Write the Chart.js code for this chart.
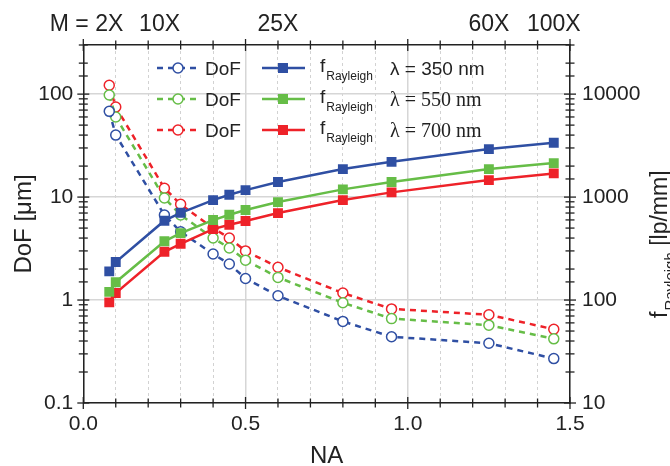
<!DOCTYPE html>
<html>
<head>
<meta charset="utf-8">
<script src="https://cdn.jsdelivr.net/npm/chart.js@4.4.1/dist/chart.umd.min.js"></script>
<style>
  body { margin: 0; background: #fff; }
  #wrap { width: 670px; height: 466px; }
</style>
</head>
<body>
<div id="wrap"><canvas id="dofChart" width="670" height="466"></canvas></div>
<script>
// numerical aperture of each objective
const na = [0.08, 0.1, 0.25, 0.3, 0.4, 0.45, 0.5, 0.6, 0.8, 0.95, 1.25, 1.45];

// depth of field [um]
const dof350 = [68, 40, 6.7, 4.6, 2.8, 2.24, 1.62, 1.1, 0.62, 0.44, 0.38, 0.27];
const dof550 = [98, 60, 9.8, 6.7, 4.0, 3.2, 2.44, 1.66, 0.94, 0.66, 0.57, 0.42];
const dof700 = [122, 75, 12.2, 8.5, 5.0, 4.0, 3.0, 2.08, 1.17, 0.82, 0.72, 0.52];

// Rayleigh frequency [lp/mm]
const f350 = [190, 234, 590, 704, 935, 1052, 1169, 1400, 1870, 2200, 2925, 3366];
const f550 = [120, 149, 372, 447, 598, 673, 748, 894, 1188, 1400, 1870, 2138];
const f700 = [95, 117, 294, 352, 489, 538, 585, 699, 935, 1111, 1462, 1698];

const lambdas = ['350 nm', '550 nm', '700 nm'];

// magnification labels on the top axis
const magLabels = ['M = 2X', '10X', '25X', '60X', '100X'];
const magNA = [0.08, 0.235, 0.6, 1.25, 1.45];

const colors = ['#2f4fa3', '#66bd47', '#ee2229'];
const FONT = "'Liberation Sans', Arial, sans-serif";
const INK = '#222';

Chart.defaults.font.family = FONT;
Chart.defaults.color = INK;

const pts = arr => arr.map((v, i) => ({ x: na[i], y: v }));
const isDecade = v => Math.abs(Math.log10(v) - Math.round(Math.log10(v))) < 1e-9;
const isHalf = v => Math.abs(v * 2 - Math.round(v * 2)) < 1e-6;

function fSet(data, c) {
  return {
    data: pts(data), yAxisID: 'y2',
    borderColor: c, backgroundColor: c, borderWidth: 2.5,
    pointStyle: 'rect', pointRadius: 7, pointBackgroundColor: c, pointBorderWidth: 0
  };
}
function dofSet(data, c) {
  return {
    data: pts(data), yAxisID: 'y',
    borderColor: c, backgroundColor: '#fff', borderWidth: 2.5, borderDash: [6, 5],
    pointStyle: 'circle', pointRadius: 5, pointBackgroundColor: '#fff',
    pointBorderColor: c, pointBorderWidth: 1.5
  };
}

// tick marks crossing the axis lines, longer at major values
const tickMarks = {
  id: 'tickMarks',
  afterDraw(chart) {
    const ctx = chart.ctx, a = chart.chartArea;
    ctx.save();
    ctx.strokeStyle = INK;
    ctx.lineWidth = 1.3;
    ['x', 'xTop', 'y', 'y2'].forEach(id => {
      const s = chart.scales[id];
      s.ticks.forEach(t => {
        const major = s.type === 'logarithmic' ? isDecade(t.value) : isHalf(t.value);
        const len = major ? 6 : 4.5;
        const p = s.getPixelForValue(t.value);
        ctx.beginPath();
        if (s.isHorizontal()) {
          const y = id === 'x' ? a.bottom : a.top;
          ctx.moveTo(p, y - len); ctx.lineTo(p, y + len);
        } else {
          const x = id === 'y' ? a.left : a.right;
          ctx.moveTo(x - len, p); ctx.lineTo(x + len, p);
        }
        ctx.stroke();
      });
    });
    ctx.restore();
  }
};

// magnification labels above the top axis
const magText = {
  id: 'magText',
  afterDraw(chart) {
    const ctx = chart.ctx, s = chart.scales.xTop;
    ctx.save();
    ctx.fillStyle = INK;
    ctx.font = '23px ' + FONT;
    ctx.textBaseline = 'alphabetic';
    magLabels.forEach((lab, i) => {
      const x = s.getPixelForValue(magNA[i]);
      const parts = lab.split('= ');
      const tail = parts[parts.length - 1];
      const w = ctx.measureText(tail).width;
      ctx.textAlign = 'right';
      ctx.fillText(lab, x + w / 2, 31);
    });
    ctx.restore();
  }
};

// right axis title with subscript
const rightTitle = {
  id: 'rightTitle',
  afterDraw(chart) {
    const ctx = chart.ctx;
    ctx.save();
    ctx.fillStyle = INK;
    ctx.translate(667, 318);
    ctx.rotate(-Math.PI / 2);
    ctx.textAlign = 'left';
    ctx.textBaseline = 'alphabetic';
    ctx.font = '23px ' + FONT;
    ctx.fillText('f', 0, 0);
    let x = ctx.measureText('f').width + 1;
    ctx.font = '15px ' + FONT;
    ctx.fillText('Rayleigh', x, 8);
    x += ctx.measureText('Rayleigh').width;
    ctx.font = '23px ' + FONT;
    ctx.fillText(' [lp/mm]', x, 0);
    ctx.restore();
  }
};

// legend block: dashed DoF sample | solid f_Rayleigh sample, lambda
const legendRows = {
  id: 'legendRows',
  afterDraw(chart) {
    const ctx = chart.ctx, ds = chart.data.datasets;
    ctx.save();
    for (let i = 0; i < 3; i++) {
      const y = 68 + i * 31;
      const fd = ds[i], dd = ds[3 + i];
      ctx.strokeStyle = dd.borderColor;
      ctx.lineWidth = dd.borderWidth;
      ctx.setLineDash(dd.borderDash);
      ctx.beginPath(); ctx.moveTo(157, y); ctx.lineTo(199, y); ctx.stroke();
      ctx.setLineDash([]);
      ctx.lineWidth = dd.pointBorderWidth;
      ctx.fillStyle = '#fff';
      ctx.beginPath(); ctx.arc(178, y, dd.pointRadius, 0, Math.PI * 2); ctx.fill(); ctx.stroke();

      ctx.strokeStyle = fd.borderColor;
      ctx.lineWidth = fd.borderWidth;
      ctx.beginPath(); ctx.moveTo(262, y); ctx.lineTo(305, y); ctx.stroke();
      ctx.fillStyle = fd.borderColor;
      ctx.fillRect(283 - 5, y - 5, 10, 10);

      ctx.fillStyle = INK;
      ctx.textBaseline = 'alphabetic';
      ctx.textAlign = 'left';
      ctx.font = '19px ' + FONT;
      ctx.fillText('DoF', 205, y + 7);
      ctx.fillText('f', 320, y + 4);
      const fw = ctx.measureText('f').width;
      ctx.font = '12px ' + FONT;
      ctx.fillText('Rayleigh', 320 + fw + 1, y + 12);
      ctx.font = (i === 0 ? '19px ' + FONT : "20px 'Liberation Serif', serif");
      ctx.fillText('\u03bb = ' + lambdas[i], 390, y + 7);
    }
    ctx.restore();
  }
};

const datasets = [
  fSet(f350, colors[0]), fSet(f550, colors[1]), fSet(f700, colors[2]),
  dofSet(dof350, colors[0]), dofSet(dof550, colors[1]), dofSet(dof700, colors[2])
];

new Chart(document.getElementById('dofChart'), {
  type: 'line',
  data: { datasets },
  plugins: [tickMarks, magText, rightTitle, legendRows],
  options: {
    responsive: false,
    devicePixelRatio: 1,
    animation: false,
    layout: { padding: 0 },
    plugins: { legend: { display: false }, tooltip: { enabled: false } },
    scales: {
      x: {
        type: 'linear', position: 'bottom', min: 0, max: 1.5,
        afterFit: s => { s.height = 63; },
        ticks: {
          stepSize: 0.1, autoSkip: false, maxRotation: 0, padding: 9,
          font: { size: 21 },
          callback: v => isHalf(v) ? v.toFixed(1) : ''
        },
        grid: {
          drawTicks: false,
          color: c => isHalf(c.tick.value) ? '#d6d6d6' : '#d2d2d2',
          lineWidth: c => isHalf(c.tick.value) ? 1.5 : 1
        },
        border: {
          color: INK, width: 1.5,
          dash: c => (c.tick && !isHalf(c.tick.value)) ? [3, 3] : []
        },
        title: { display: true, text: 'NA', font: { size: 24, lineHeight: 0.8 }, padding: 0 }
      },
      xTop: {
        type: 'linear', position: 'top', min: 0, max: 1.5,
        afterFit: s => { s.height = 45; },
        ticks: { stepSize: 0.1, display: false },
        grid: { drawOnChartArea: false, drawTicks: false },
        border: { color: INK, width: 1.5 }
      },
      y: {
        type: 'logarithmic', position: 'left', min: 0.1, max: 300,
        afterFit: s => { s.width = 83.3; },
        ticks: {
          autoSkip: false, padding: 10, font: { size: 21 },
          callback: v => isDecade(v) ? String(Number(v.toPrecision(6))) : ''
        },
        grid: {
          drawTicks: false,
          color: c => isDecade(c.tick.value) ? '#d6d6d6' : 'rgba(0,0,0,0)',
          lineWidth: 1.5
        },
        border: { color: INK, width: 1.5 },
        title: { display: true, text: 'DoF [\u03bcm]', font: { size: 24, lineHeight: 1 }, padding: { top: 12 } }
      },
      y2: {
        type: 'logarithmic', position: 'right', min: 10, max: 30000,
        afterFit: s => { s.width = 100; },
        ticks: {
          autoSkip: false, padding: 12, font: { size: 21 },
          callback: v => isDecade(v) ? String(Number(v.toPrecision(6))) : ''
        },
        grid: { drawOnChartArea: false, drawTicks: false },
        border: { color: INK, width: 1.5 }
      }
    }
  }
});
</script>
</body>
</html>
